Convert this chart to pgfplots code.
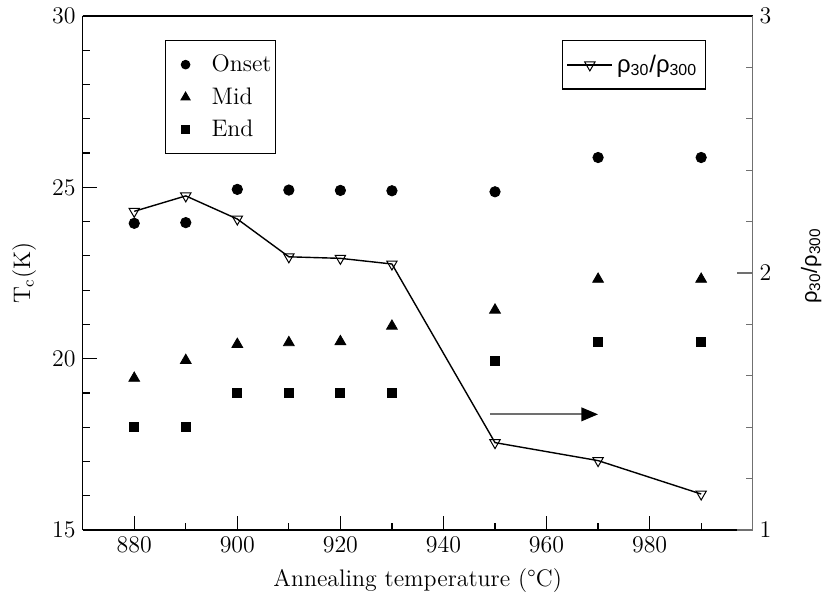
\documentclass[border=0pt]{standalone}
\usepackage{fontspec}
\usepackage{pgfplots}
\pgfplotsset{compat=1.18}
\usetikzlibrary{arrows.meta}
\newfontfamily\grk{Liberation Sans}
\definecolor{axgray}{HTML}{707070}
\pgfplotsset{
  mleg/.style={legend image code/.code={\path[draw=none,fill=none] (0bp,0bp) (21bp,0bp); \draw[mark size=#1] plot coordinates {(10bp,0bp)};}},
}
\begin{document}
\begin{tikzpicture}[font=\fontsize{12}{14}\selectfont]
\useasboundingbox (-41.35bp,-31bp) rectangle (370.15bp,265bp);
\begin{axis}[
  name=main, scale only axis, width=335bp, height=257bp,
  xmin=870, xmax=1000, ymin=15, ymax=30,
  axis x line*=bottom, axis y line*=left,
  xtick={880,900,...,980}, minor xtick={890,910,...,990},
  ytick={15,20,25,30}, minor ytick={16,17,18,19,21,22,23,24,26,27,28,29},
  tick align=inside,
  major tick length=7bp, minor tick length=3.5bp,
  axis line style={-, line width=0.6bp},
  every tick/.style={black, line width=0.6bp},
  every axis x label/.style={at={(axis description cs:0.5,0)}, yshift=-25.5bp, anchor=center},
  every axis y label/.style={at={(axis description cs:0,0.5)}, xshift=-29.3bp, rotate=90, anchor=center},
  xlabel={Annealing temperature (\textdegree C)},
  ylabel={T$_\mathrm{c}$(K)},
  legend style={at={(0.1228,0.953)}, anchor=north west, draw=black, line width=0.6bp,
    inner xsep=0bp, inner ysep=5bp, row sep=2.5bp, font=\fontsize{12}{14}\selectfont},
  legend cell align=left,
]
\addplot[only marks, mark=*, mark size=2.6bp, black, mleg=2.1bp] coordinates {
 (880,23.95) (890,23.97) (900,24.94) (910,24.92) (920,24.91) (930,24.90) (950,24.87) (970,25.87) (990,25.87)};
\addlegendentry{Onset}
\addplot[only marks, mark=triangle*, mark size=3.1bp, black, mleg=2.5bp] coordinates {
 (880,19.43) (890,19.95) (900,20.42) (910,20.47) (920,20.50) (930,20.95) (950,21.42) (970,22.32) (990,22.32)};
\addlegendentry{Mid}
\addplot[only marks, mark=square*, mark size=2.25bp, black, mleg=1.9bp] coordinates {
 (880,18.0) (890,18.0) (900,19.0) (910,19.0) (920,19.0) (930,19.0) (950,19.93) (970,20.48) (990,20.48)};
\addlegendentry{End}
\end{axis}
\begin{axis}[
  scale only axis, width=335bp, height=257bp,
  xmin=870, xmax=1000, ymin=1, ymax=3,
  axis x line*=top, xtick=\empty, x axis line style={-, black, line width=0.6bp},
  axis y line*=right,
  ytick={1,2,3}, minor ytick={1.2,1.4,1.6,1.8,2.2,2.4,2.6,2.8},
  tick align=inside,
  major tick length=8bp, minor tick length=3.5bp,
  y axis line style={-, axgray, line width=0.7bp},
  every tick/.style={axgray, line width=0.6bp},
  every axis y label/.style={at={(axis description cs:1,0.514)}, xshift=29.2bp, rotate=90, anchor=center},
  ylabel={{\grk\fontsize{11}{13}\selectfont ρ\textsubscript{30}/ρ\textsubscript{300}}},
  legend style={at={(0.930,0.953)}, anchor=north east, draw=black, line width=0.6bp,
    inner xsep=2bp, inner ysep=5bp, font=\fontsize{12}{14}\selectfont},
  legend image code/.code={\draw[mark repeat=2,mark phase=2] plot coordinates {(0bp,0bp) (11.25bp,0bp) (22.5bp,0bp)};},
]
\addplot[black, line width=0.7bp, mark=triangle, mark size=3.0bp,
  mark options={rotate=180, fill=white, line width=0.5bp}] coordinates {
 (880,2.24) (890,2.30) (900,2.21) (910,2.063) (920,2.057) (930,2.035) (950,1.34) (970,1.27) (990,1.14)};
\addlegendentry{{\grk ρ\textsubscript{30}/ρ\textsubscript{300}}}
\addplot[axgray, line width=1.1bp, -{Triangle[length=8.3bp,width=6.7bp,black]}, forget plot] coordinates {
 (949,1.45) (970,1.45)};
\end{axis}
\end{tikzpicture}
\end{document}
